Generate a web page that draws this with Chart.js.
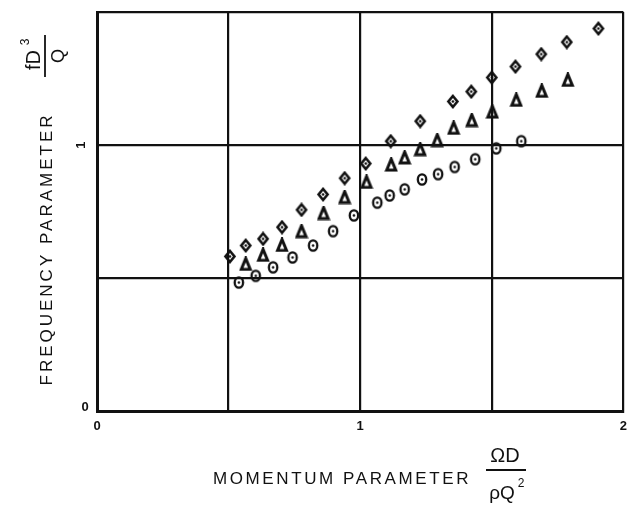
<!DOCTYPE html>
<html>
<head>
<meta charset="utf-8">
<script src="https://cdn.jsdelivr.net/npm/chart.js@4.4.1/dist/chart.umd.min.js"></script>
<style>
    html, body { margin: 0; padding: 0; background: #fff; }
    #wrap { width: 634px; height: 513px; }
</style>
</head>
<body>
<div id="wrap"><canvas id="chart"></canvas></div>
<script>
// Readings from the plot (x = momentum parameter, y = frequency parameter)
const diamondX = [0.505, 0.565, 0.631, 0.703, 0.777, 0.859, 0.941, 1.021, 1.116, 1.228, 1.352, 1.422, 1.500, 1.590, 1.688, 1.785, 1.905];
const diamondY = [0.582, 0.623, 0.648, 0.692, 0.757, 0.815, 0.876, 0.931, 1.015, 1.090, 1.164, 1.201, 1.254, 1.295, 1.342, 1.387, 1.438];

const triangleX = [0.565, 0.631, 0.703, 0.777, 0.861, 0.941, 1.024, 1.118, 1.169, 1.228, 1.293, 1.355, 1.424, 1.502, 1.593, 1.690, 1.789];
const triangleY = [0.554, 0.588, 0.625, 0.677, 0.745, 0.805, 0.862, 0.927, 0.954, 0.985, 1.019, 1.065, 1.094, 1.126, 1.170, 1.204, 1.245];

const circleX = [0.539, 0.603, 0.669, 0.743, 0.821, 0.897, 0.976, 1.065, 1.112, 1.169, 1.235, 1.296, 1.359, 1.437, 1.517, 1.612];
const circleY = [0.484, 0.509, 0.541, 0.578, 0.623, 0.677, 0.736, 0.784, 0.811, 0.834, 0.871, 0.891, 0.918, 0.947, 0.988, 1.015];

const xTickLabels = { 0: '0', 1: '1', 2: '2' };
const yTickLabels = [0, 1];

const INK = '#111';
const FONT = '"Liberation Sans", Arial, sans-serif';

function toPoints(xs, ys) {
    return xs.map((x, i) => ({ x: x, y: ys[i] }));
}

// small marker glyphs drawn once and handed to Chart.js as point styles
function makeMarker(kind) {
    const c = document.createElement('canvas');
    c.width = 14;
    c.height = 15;
    const g = c.getContext('2d');
    g.strokeStyle = INK;
    g.fillStyle = INK;
    g.lineWidth = 2.6;
    if (kind === 'diamond') {
        g.beginPath();
        g.moveTo(7, 2);
        g.lineTo(11.5, 7.5);
        g.lineTo(7, 13);
        g.lineTo(2.5, 7.5);
        g.closePath();
        g.stroke();
        g.beginPath();
        g.arc(7, 7.5, 1.3, 0, Math.PI * 2);
        g.fill();
    } else if (kind === 'triangle') {
        g.lineWidth = 3;
        g.beginPath();
        g.moveTo(7, 2);
        g.lineTo(11.5, 13);
        g.lineTo(2.5, 13);
        g.closePath();
        g.stroke();
    } else {
        g.lineWidth = 2.3;
        g.beginPath();
        g.ellipse(7, 7.5, 4.2, 5.2, 0, 0, Math.PI * 2);
        g.stroke();
        g.beginPath();
        g.arc(7, 7.5, 1.3, 0, Math.PI * 2);
        g.fill();
    }
    return c;
}

// axis titles, y tick labels and the fractions
const labelsPlugin = {
    id: 'labels',
    afterDraw(chart) {
        const ctx = chart.ctx;
        const ys = chart.scales.y;
        const area = chart.chartArea;
        ctx.save();
        ctx.fillStyle = INK;
        ctx.strokeStyle = INK;

        // y tick labels: "0" upright, "1" turned with the axis
        ctx.font = 'bold 13px ' + FONT;
        ctx.textAlign = 'center';
        ctx.textBaseline = 'middle';
        yTickLabels.forEach(v => {
            const py = ys.getPixelForValue(v);
            if (v === 0) {
                ctx.fillText(String(v), area.left - 12, py - 4);
            } else {
                ctx.save();
                ctx.translate(area.left - 16, py);
                ctx.rotate(-Math.PI / 2);
                ctx.fillText(String(v), 0, 0);
                ctx.restore();
            }
        });

        // y title
        ctx.save();
        ctx.translate(47, 249);
        ctx.rotate(-Math.PI / 2);
        ctx.font = '17px ' + FONT;
        ctx.letterSpacing = '3px';
        ctx.fillText('FREQUENCY PARAMETER', 0, 0);
        ctx.restore();

        // y fraction fD^3 / Q
        ctx.save();
        ctx.translate(45, 56);
        ctx.rotate(-Math.PI / 2);
        ctx.font = '20px ' + FONT;
        ctx.fillText('fD', -4, -11);
        ctx.font = '12px ' + FONT;
        ctx.fillText('3', 14, -19);
        ctx.lineWidth = 1.8;
        ctx.beginPath();
        ctx.moveTo(-21, 0);
        ctx.lineTo(21, 0);
        ctx.stroke();
        ctx.font = '18px ' + FONT;
        ctx.fillText('Q', 0, 14);
        ctx.restore();

        // x title
        ctx.font = '17px ' + FONT;
        ctx.letterSpacing = '2.6px';
        ctx.textAlign = 'left';
        ctx.textBaseline = 'alphabetic';
        ctx.fillText('MOMENTUM PARAMETER', 213, 484);
        ctx.letterSpacing = '0px';

        // x fraction ΩD / ρQ^2
        ctx.textAlign = 'center';
        ctx.font = '20px ' + FONT;
        ctx.fillText('ΩD', 505, 462);
        ctx.lineWidth = 1.8;
        ctx.beginPath();
        ctx.moveTo(486, 470);
        ctx.lineTo(526, 470);
        ctx.stroke();
        ctx.font = '19px ' + FONT;
        ctx.fillText('ρQ', 502, 499);
        ctx.font = '12px ' + FONT;
        ctx.fillText('2', 521, 487);
        ctx.restore();
    }
};

const diamondMarker = makeMarker('diamond');
const triangleMarker = makeMarker('triangle');
const circleMarker = makeMarker('circle');

new Chart(document.getElementById('chart'), {
    type: 'scatter',
    data: {
        datasets: [
            { label: 'diamond', data: toPoints(diamondX, diamondY), pointStyle: diamondMarker },
            { label: 'triangle', data: toPoints(triangleX, triangleY), pointStyle: triangleMarker },
            { label: 'circle', data: toPoints(circleX, circleY), pointStyle: circleMarker }
        ]
    },
    options: {
        responsive: true,
        maintainAspectRatio: false,
        animation: false,
        layout: { padding: { left: 97, right: 10, top: 12, bottom: 72 } },
        plugins: {
            legend: { display: false },
            tooltip: { enabled: false }
        },
        scales: {
            x: {
                type: 'linear',
                min: 0,
                max: 2,
                ticks: {
                    stepSize: 0.5,
                    padding: 7,
                    color: INK,
                    font: { family: FONT, size: 13, weight: 'bold' },
                    maxRotation: 0,
                    callback: v => xTickLabels[v] || ''
                },
                grid: { color: INK, lineWidth: 2.2, drawTicks: false },
                border: { color: INK, width: 3 }
            },
            y: {
                type: 'linear',
                min: 0,
                max: 1.5,
                ticks: { stepSize: 0.5, display: false },
                grid: { color: INK, lineWidth: 2.2, drawTicks: false },
                border: { color: INK, width: 3 }
            }
        }
    },
    plugins: [labelsPlugin]
});
</script>
</body>
</html>
